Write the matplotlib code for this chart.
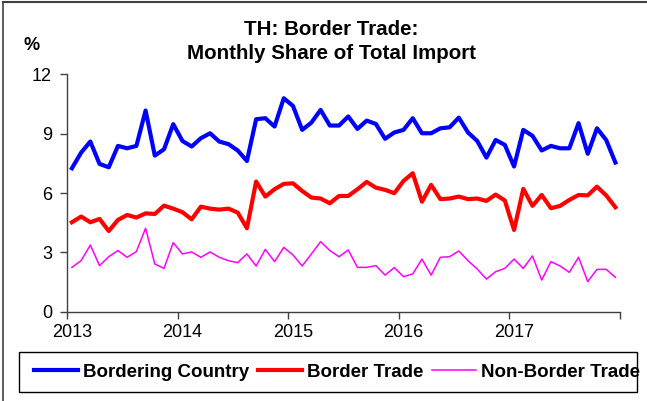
"""
TH: Border Trade - monthly share of total import (%), 2013-2017.
"""

import matplotlib

matplotlib.use("Agg")
import matplotlib.pyplot as plt
from matplotlib.lines import Line2D
from matplotlib.patches import Rectangle

plt.rcParams["font.family"] = ["Liberation Sans", "DejaVu Sans"]

# Monthly values, Jan 2013 .. Dec 2017 (60 months)
YEARS = ["2013", "2014", "2015", "2016", "2017"]

BORDERING_COUNTRY = [
    7.25, 8.04, 8.60, 7.47, 7.30, 8.38, 8.26, 8.38, 10.17, 7.89, 8.21, 9.48,
    8.63, 8.35, 8.77, 9.02, 8.60, 8.47, 8.15, 7.62, 9.73, 9.78, 9.36, 10.79,
    10.40, 9.19, 9.56, 10.20, 9.41, 9.41, 9.87, 9.24, 9.66, 9.49, 8.74, 9.06,
    9.19, 9.78, 9.02, 9.02, 9.27, 9.32, 9.81, 9.06, 8.63, 7.79, 8.68, 8.43,
    7.34, 9.19, 8.89, 8.15, 8.38, 8.26, 8.26, 9.53, 7.98, 9.27, 8.68, 7.54,
]
BORDER_TRADE = [
    4.52, 4.81, 4.52, 4.69, 4.08, 4.64, 4.89, 4.76, 4.97, 4.94, 5.36, 5.21,
    5.03, 4.67, 5.31, 5.21, 5.16, 5.21, 5.01, 4.22, 6.58, 5.82, 6.19, 6.46,
    6.49, 6.10, 5.77, 5.72, 5.48, 5.85, 5.85, 6.19, 6.56, 6.27, 6.16, 5.99,
    6.61, 7.00, 5.56, 6.41, 5.69, 5.72, 5.82, 5.69, 5.72, 5.60, 5.92, 5.62,
    4.13, 6.21, 5.35, 5.90, 5.23, 5.35, 5.65, 5.90, 5.88, 6.32, 5.88, 5.28,
]
NON_BORDER_TRADE = [
    2.24, 2.58, 3.37, 2.33, 2.78, 3.09, 2.75, 3.04, 4.22, 2.41, 2.19, 3.49,
    2.92, 3.02, 2.75, 3.02, 2.75, 2.58, 2.48, 2.92, 2.31, 3.15, 2.53, 3.25,
    2.87, 2.31, 2.92, 3.54, 3.09, 2.78, 3.12, 2.24, 2.24, 2.33, 1.85, 2.23,
    1.77, 1.91, 2.66, 1.85, 2.75, 2.78, 3.07, 2.58, 2.16, 1.65, 2.02, 2.19,
    2.66, 2.19, 2.82, 1.60, 2.53, 2.31, 1.99, 2.75, 1.52, 2.14, 2.14, 1.74,
]

AXIS_COLOR = "#404040"

W, H = 647, 401
fig = plt.figure(figsize=(W / 100, H / 100), dpi=100)
ax = fig.add_axes([67.3 / W, 1 - 311.7 / H, (620 - 67.3) / W, (311.7 - 74.3) / H])

months = range(len(BORDERING_COUNTRY))
ax.plot(months, BORDERING_COUNTRY, color="#0000FF", lw=3.0, label="Bordering Country")
ax.plot(months, BORDER_TRADE, color="#FF0000", lw=3.0, label="Border Trade")
ax.plot(months, NON_BORDER_TRADE, color="#FF00FF", lw=1.1, label="Non-Border Trade")

# x axis: tick marks between years, labels on January
n_years = len(YEARS)
ax.set_xlim(-0.5, 12 * n_years - 0.5)
ax.set_xticks([12 * i - 0.5 for i in range(n_years + 1)])
ax.set_xticklabels([])
ax.set_xticks([12 * i for i in range(n_years)], minor=True)
ax.set_xticklabels(YEARS, minor=True)
ax.tick_params(axis="x", which="major", length=5, width=1, color=AXIS_COLOR)
ax.tick_params(axis="x", which="minor", length=0, pad=9, labelsize=13)

ax.set_ylim(0, 12)
ax.set_yticks([0, 3, 6, 9, 12])
ax.tick_params(axis="y", length=5, width=1, color=AXIS_COLOR, pad=6, labelsize=13)

for side in ("top", "right"):
    ax.spines[side].set_visible(False)
for side in ("left", "bottom"):
    ax.spines[side].set_color(AXIS_COLOR)
    ax.spines[side].set_linewidth(1)

# titles
fig.text(331.5 / W, 1 - 35 / H, "TH: Border Trade:", ha="center", va="baseline",
         fontsize=14.75, fontweight="bold")
fig.text(331.5 / W, 1 - 59 / H, "Monthly Share of Total Import", ha="center",
         va="baseline", fontsize=14.75, fontweight="bold")
fig.text(32 / W, 1 - 45.5 / H, "%", ha="center", va="center", fontsize=13,
         fontweight="bold")

# chart border (left and top visible in the crop)
fig.add_artist(Line2D([3 / W, 3 / W], [0, 1 - 2 / H], color=AXIS_COLOR, lw=1.2))
fig.add_artist(Line2D([3 / W, 1], [1 - 2 / H, 1 - 2 / H], color=AXIS_COLOR, lw=1.5))

# legend: fixed box, entries drawn without their own frame
fig.add_artist(Rectangle((19 / W, 1 - 392 / H), 618 / W, 40 / H,
                         transform=fig.transFigure, fill=False,
                         edgecolor="black", lw=1))
fig.legend(
    loc="center",
    bbox_to_anchor=(337 / W, 1 - 372 / H),
    ncol=3,
    frameon=False,
    prop={"size": 13.5, "weight": "bold"},
    handlelength=2.35,
    handletextpad=0.27,
    columnspacing=0.45,
    borderpad=0.2,
)

fig.savefig("out.png", dpi=100)
